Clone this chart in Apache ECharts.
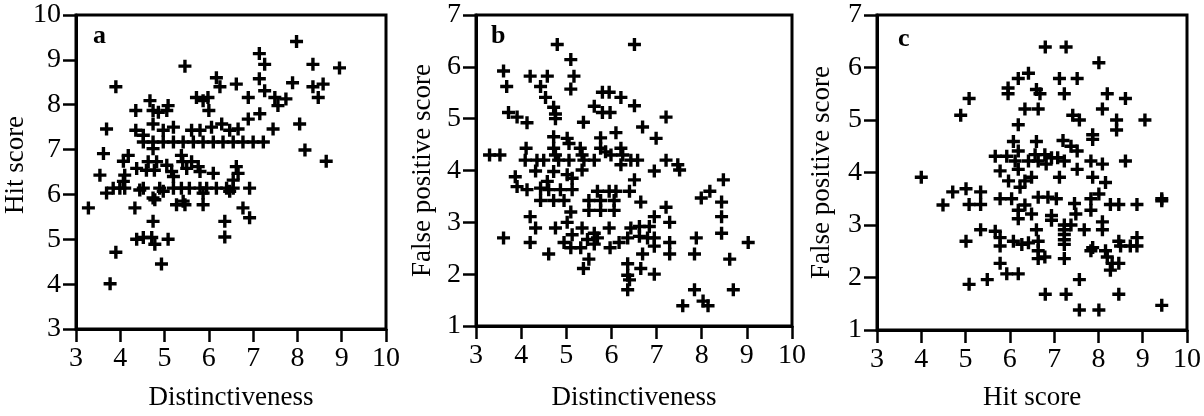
<!DOCTYPE html>
<html>
<head>
<meta charset="utf-8">
<script src="https://cdn.jsdelivr.net/npm/echarts@6/dist/echarts.min.js"></script>
<style>html,body{margin:0;padding:0;background:#fff}#c{width:1204px;height:416px}</style>
</head>
<body>
<div id="c"></div>
<script>
// Panel a: Distinctiveness (x) vs Hit score (y)
const aX = [7.98,7.14,7.26,8.35,8.95,5.46,6.17,6.25,6.62,7.14,7.26,7.89,8.35,8.58,8.47,3.9,5.72,5.98,5.87,6.0,6.89,7.49,7.56,7.74,7.15,6.89,8.05,7.45,8.17,8.65,
  4.67,4.35,4.74,5.05,5.08,4.86,3.69,4.35,4.52,4.74,4.97,5.2,5.61,5.8,6.06,6.29,6.47,6.66,
  4.52,4.74,4.97,5.2,5.42,5.65,5.87,6.1,6.32,6.55,6.77,7.0,7.23,
  3.62,4.18,4.07,4.74,4.63,4.82,5.05,5.38,5.41,5.61,5.5,5.76,5.8,4.37,4.59,4.77,5.16,5.2,6.1,6.62,6.66,6.55,3.54,4.1,4.07,
  3.84,3.99,4.1,4.52,4.89,5.2,5.38,5.56,5.8,5.95,6.17,6.4,6.55,6.92,
  3.69,4.44,4.74,4.97,5.87,6.47,
  3.28,4.33,4.78,5.27,5.42,5.46,5.87,6.77,6.92,4.74,6.36,6.36,4.37,4.52,4.71,4.78,5.08,4.93,3.9,3.77];
const aY = [9.41,9.14,8.9,8.9,8.82,8.86,8.6,8.4,8.46,8.58,8.31,8.49,8.4,8.46,8.16,8.4,8.16,8.16,8.09,7.87,8.16,8.16,7.98,8.13,7.8,7.68,7.57,7.46,6.99,6.74,
  8.09,7.87,7.87,7.87,7.98,7.83,7.46,7.43,7.32,7.57,7.43,7.5,7.43,7.43,7.5,7.57,7.43,7.46,
  7.17,7.17,7.17,7.17,7.17,7.17,7.17,7.17,7.17,7.17,7.17,7.17,7.17,
  6.91,6.87,6.74,7.02,6.73,6.73,6.65,6.87,6.73,6.73,6.58,6.62,6.51,6.58,6.54,6.54,6.51,6.4,6.47,6.62,6.47,6.32,6.43,6.43,6.29,
  6.14,6.14,6.14,6.14,6.14,6.14,6.14,6.14,6.14,6.14,6.14,6.14,6.14,6.14,
  6.03,6.1,5.92,6.07,6.03,6.07,
  5.7,5.7,5.88,5.77,5.85,5.77,5.77,5.7,5.48,5.4,5.4,5.05,5.0,5.04,5.04,4.89,5.0,4.45,4.71,4.01];

// Panel b: Distinctiveness (x) vs False positive score (y)
const bX = [4.8,6.51,5.1,3.61,4.2,4.58,5.17,3.68,4.43,4.54,5.1,5.8,5.95,6.21,6.51,5.62,5.8,5.97,4.72,4.76,3.72,3.91,4.13,4.76,5.38,7.21,6.69,6.99,6.1,5.76,4.72,5.02,5.06,
  3.3,3.53,4.11,4.09,4.35,4.5,4.72,4.76,4.83,5.06,5.31,5.35,5.39,5.62,5.76,5.87,5.99,6.21,6.25,6.21,6.43,6.58,7.21,7.47,7.51,6.95,
  4.32,4.72,5.02,5.13,5.35,3.87,6.51,8.48,3.91,4.13,4.43,4.58,4.61,4.87,5.13,8.18,5.69,5.95,6.1,6.4,7.99,
  4.43,4.72,4.95,5.5,5.5,5.76,5.76,6.06,6.06,6.65,8.44,7.21,4.2,5.1,6.95,8.44,7.29,5.02,4.32,4.76,5.35,5.95,6.43,6.62,6.84,
  3.61,4.2,4.95,5.13,5.62,5.69,5.47,6.17,6.36,6.62,6.8,6.95,7.88,7.29,6.95,5.1,5.32,5.62,5.97,9.03,8.44,
  4.61,5.5,6.69,7.29,7.84,8.62,5.38,6.36,6.65,6.95,6.36,6.4,6.36,7.84,8.7,8.03,7.58,8.14];
const bY = [6.43,6.43,6.14,5.92,5.82,5.82,5.82,5.62,5.62,5.41,5.57,5.51,5.51,5.41,5.25,5.24,5.12,5.12,5.22,5.09,5.12,5.03,4.92,5.0,4.93,5.03,4.84,4.62,4.73,4.63,4.65,4.62,4.52,
  4.3,4.3,4.43,4.2,4.2,4.2,4.43,4.3,4.2,4.2,4.43,4.3,4.2,4.2,4.43,4.36,4.3,4.43,4.3,4.11,4.2,4.2,4.2,4.11,4.01,3.99,
  3.99,3.98,3.92,3.85,4.01,3.88,3.82,3.82,3.69,3.63,3.66,3.79,3.63,3.63,3.63,3.6,3.6,3.6,3.6,3.6,3.47,
  3.42,3.42,3.42,3.42,3.23,3.42,3.23,3.42,3.23,3.39,3.39,3.29,3.11,3.2,3.11,3.11,3.0,3.0,2.89,2.89,2.89,2.89,2.89,2.92,2.92,
  2.7,2.61,2.61,2.76,2.79,2.7,2.67,2.61,2.7,2.73,2.7,2.7,2.7,2.61,2.54,2.51,2.51,2.58,2.51,2.61,2.79,
  2.39,2.29,2.39,2.39,2.39,2.29,2.11,2.2,2.11,2.0,1.98,1.89,1.7,1.7,1.7,1.48,1.39,1.39];

// Panel c: Hit score (x) vs False positive score (y)
const cX = [6.8,7.27,8.01,6.42,6.19,7.12,7.52,5.96,5.96,6.6,6.68,7.23,8.2,8.61,5.08,4.89,6.34,6.64,7.42,7.57,8.09,8.41,8.41,9.05,6.19,7.87,7.87,
  6.08,6.6,7.2,7.38,7.52,5.67,5.93,6.19,6.57,6.79,6.94,7.08,6.12,6.42,6.64,6.82,7.23,7.83,8.09,8.61,
  4.0,5.78,6.19,6.49,7.12,7.52,7.87,8.16,5.97,6.23,6.34,4.71,5.01,5.34,5.78,6.04,6.64,6.86,7.05,7.46,7.83,8.01,9.43,6.34,4.49,
  5.08,5.34,6.19,6.19,6.49,6.94,6.94,7.49,7.83,8.27,8.46,8.87,9.43,8.09,7.23,7.38,7.23,7.23,7.23,7.23,7.23,
  5.34,5.67,5.01,5.78,5.78,6.08,6.27,6.42,6.64,6.6,6.64,6.64,6.79,7.68,8.09,7.87,7.83,8.16,8.2,8.31,8.46,8.27,8.46,8.5,8.87,8.87,8.72,
  5.78,5.93,6.19,5.49,5.08,7.57,6.8,7.27,8.46,7.57,8.01,9.43];
const cY = [6.39,6.39,6.09,5.89,5.79,5.79,5.79,5.61,5.5,5.58,5.5,5.5,5.5,5.41,5.41,5.09,5.21,5.21,5.09,5.0,5.21,5.0,4.81,5.0,4.91,4.72,4.63,
  4.59,4.59,4.61,4.5,4.41,4.31,4.31,4.41,4.34,4.34,4.28,4.28,4.22,4.22,4.22,4.16,4.22,4.22,4.16,4.22,
  3.91,4.03,4.06,3.91,3.91,4.06,3.91,3.81,3.84,3.72,3.84,3.63,3.69,3.63,3.5,3.5,3.53,3.53,3.5,3.41,3.5,3.59,3.5,3.38,3.38,
  3.39,3.39,3.28,3.12,3.21,3.18,3.09,3.21,3.28,3.39,3.39,3.39,3.46,3.06,3.0,3.0,2.91,2.82,2.72,2.63,2.36,
  2.91,2.88,2.69,2.76,2.6,2.69,2.63,2.66,2.69,2.91,2.51,2.36,2.39,2.91,2.91,2.57,2.51,2.51,2.39,2.27,2.27,2.14,2.69,2.6,2.76,2.6,2.6,
  2.27,2.07,2.07,1.96,1.87,1.96,1.68,1.68,1.68,1.38,1.38,1.47];

const panelLetters = ['a', 'b', 'c'];
const xNames = ['Distinctiveness', 'Distinctiveness', 'Hit score'];
const yNames = ['Hit score', 'False positive score', 'False positive score'];
const yRanges = [[3, 10], [1, 7], [1, 7]];

const FONT = '"Liberation Serif", "Times New Roman", serif';
const PLUS = 'path://M3.7,0H6.3V3.7H10V6.3H6.3V10H3.7V6.3H0V3.7H3.7Z';
const zip = (xs, ys) => xs.map((x, i) => [x, ys[i]]);
const sets = [zip(aX, aY), zip(bX, bY), zip(cX, cY)];

const grids = [
  {left: 76, top: 15, width: 310, height: 317},
  {left: 476, top: 15, width: 316, height: 317},
  {left: 877, top: 15, width: 315, height: 322}
];
const nameGapsY = [44, 40, 42];
const nameGapsX = [55, 58, 54];
const letterOffsets = [[12, 3], [10, 3], [16, 6]];
const yNamePad = [[0, 0, 0, 14], [0, 0, 0, 0], [0, 0, 0, 0]];

const chart = echarts.init(document.getElementById('c'), null, {renderer: 'canvas'});
chart.setOption({
  backgroundColor: '#fff',
  animation: false,
  title: panelLetters.map((t, i) => ({
    text: t, left: grids[i].left + letterOffsets[i][0], top: grids[i].top + letterOffsets[i][1],
    textStyle: {fontFamily: FONT, fontWeight: 'bold', fontSize: 26, color: '#000'}
  })),
  grid: grids.map(g => Object.assign({show: true, borderColor: '#000', borderWidth: 3, backgroundColor: 'transparent', containLabel: false}, g)),
  xAxis: xNames.map((n, i) => ({
    gridIndex: i, type: 'value', min: 3, max: 10, interval: 1,
    name: n, nameLocation: 'middle', nameGap: nameGapsX[i],
    nameTextStyle: {fontFamily: FONT, fontSize: 27, color: '#000'},
    axisLine: {show: true, onZero: false, lineStyle: {color: '#000', width: 3}},
    axisTick: {show: true, inside: false, length: 13, lineStyle: {color: '#000', width: 2.5}},
    axisLabel: {fontFamily: FONT, fontSize: 28, color: '#000', margin: 16},
    splitLine: {show: false}
  })),
  yAxis: yNames.map((n, i) => ({
    gridIndex: i, type: 'value', min: yRanges[i][0], max: yRanges[i][1], interval: 1,
    name: n, nameLocation: 'middle', nameGap: nameGapsY[i],
    nameTextStyle: {fontFamily: FONT, fontSize: 27, color: '#000', padding: yNamePad[i]},
    axisLine: {show: true, onZero: false, lineStyle: {color: '#000', width: 3}},
    axisTick: {show: true, inside: false, length: 13, lineStyle: {color: '#000', width: 2.5}},
    axisLabel: {fontFamily: FONT, fontSize: 28, color: '#000', margin: 15},
    splitLine: {show: false}
  })),
  series: sets.map((d, i) => ({
    type: 'scatter', xAxisIndex: i, yAxisIndex: i, data: d,
    symbol: PLUS, symbolSize: 13,
    itemStyle: {color: '#000', opacity: 1}
  }))
});
</script>
</body>
</html>
